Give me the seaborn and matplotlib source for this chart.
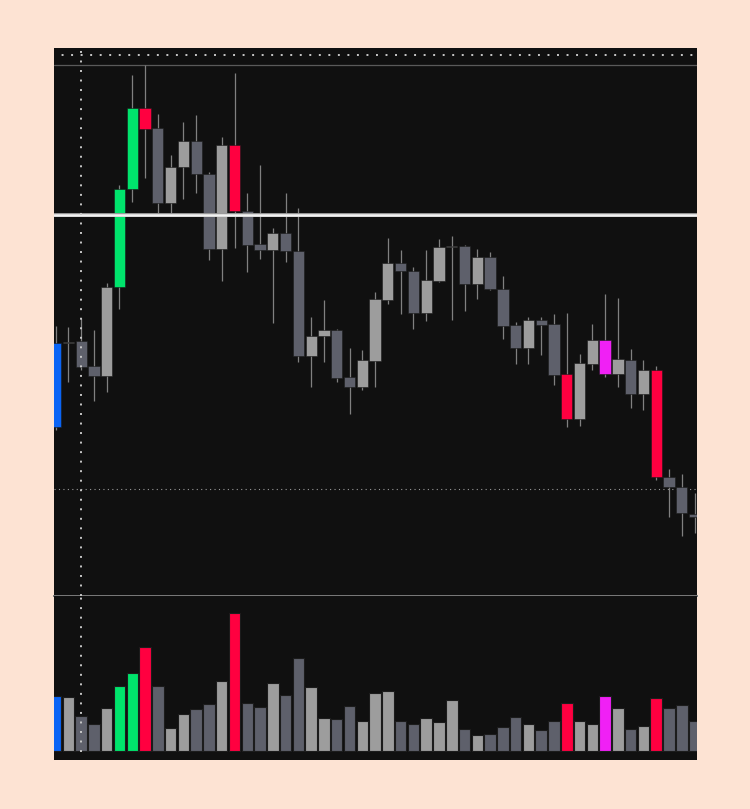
import numpy as np
import pandas as pd
import matplotlib
matplotlib.use("Agg")
import matplotlib.pyplot as plt
import seaborn as sns

# ---------------- data ----------------
opens  = [17.3, 25.7, 25.9, 23.4, 22.4, 31.3, 41.1, 49.2, 47.2, 39.7,
          43.3, 45.9, 42.6, 35.1, 45.5, 38.9, 35.6, 35.0, 36.7, 34.9,
          24.4, 26.4, 27.0, 22.3, 21.3, 23.9, 30.0, 33.7, 32.9, 28.7,
          31.9, 35.3, 35.4, 31.6, 34.3, 31.1, 27.5, 25.2, 28.0, 27.6,
          22.6, 18.1, 23.6, 26.0, 22.6, 24.0, 20.6, 23.0, 12.3, 11.3, 8.6]
highs  = [27.4, 27.3, 28.2, 27.0, 31.7, 41.5, 52.5, 53.5, 48.6, 44.5,
          47.8, 48.5, 42.8, 46.3, 52.7, 40.7, 43.5, 37.2, 40.7, 39.2,
          28.3, 30.0, 27.1, 25.2, 25.0, 30.8, 36.2, 35.0, 33.3, 35.0,
          36.1, 36.4, 35.5, 35.1, 34.8, 32.4, 27.8, 28.3, 28.3, 28.6,
          28.7, 24.6, 27.6, 30.6, 30.2, 25.1, 24.0, 23.4, 13.1, 12.6, 10.7]
lows   = [17.0, 21.8, 23.0, 19.9, 20.8, 29.1, 39.8, 42.2, 38.7, 38.7,
          40.1, 40.7, 34.0, 31.9, 35.2, 32.8, 34.1, 27.7, 33.8, 23.8,
          21.3, 23.8, 21.8, 18.6, 21.0, 21.3, 29.6, 28.6, 27.1, 27.9,
          31.8, 28.0, 28.9, 30.1, 31.0, 26.1, 23.6, 23.6, 24.5, 21.5,
          17.3, 17.4, 23.0, 22.3, 21.3, 19.2, 19.0, 12.0, 8.3, 6.4, 6.7]
closes = [25.7, 25.8, 23.3, 22.4, 31.3, 41.1, 49.2, 47.1, 39.7, 43.3,
          45.9, 42.6, 35.1, 45.5, 38.9, 35.5, 35.0, 36.7, 34.9, 24.4,
          26.4, 27.0, 22.2, 21.3, 24.0, 30.1, 33.7, 32.9, 28.7, 32.0,
          35.3, 35.4, 31.6, 34.3, 31.1, 27.4, 25.2, 28.0, 27.5, 22.5,
          18.1, 23.7, 26.0, 22.6, 24.1, 20.6, 23.0, 12.3, 11.3, 8.7, 8.3]
volumes = [5400, 5300, 3470, 2600, 4240, 6440, 7740, 10340, 6470, 2270,
           3640, 4100, 4640, 6970, 13640, 4700, 4370, 6740, 5540, 9170,
           6370, 3270, 3170, 4400, 2900, 5700, 5970, 2900, 2670, 3200,
           2840, 5000, 2170, 1600, 1700, 2370, 3340, 2600, 2070, 2900,
           4700, 2900, 2600, 5470, 4270, 2140, 2440, 5270, 4270, 4540, 2900]
# highlighted candles (signal categories)
signal = {0: "blue", 5: "green", 6: "green", 7: "red", 14: "red",
          40: "red", 43: "magenta", 47: "red"}
level_line = 38.5      # solid white level
dotted_level = 11.1    # dotted level
marker_bar = 2         # vertical dotted marker

# ---------------- styling ----------------
PEACH = "#fde3d3"
BG = "#101010"
COLORS = {"up": "#9d9d9d", "down": "#5e606b", "blue": "#0a64f5",
          "green": "#00e46c", "red": "#ff0040", "magenta": "#f020f5"}

n = len(opens)
idx = np.arange(n)
cat = []
for i in range(n):
    if i in signal:
        cat.append(signal[i])
    else:
        cat.append("up" if closes[i] >= opens[i] else "down")
df = pd.DataFrame({"bar": idx, "open": opens, "high": highs, "low": lows,
                   "close": closes, "volume": volumes, "cat": cat})

sns.set_theme(style="dark")
fig = plt.figure(figsize=(7.5, 8.09), dpi=100, facecolor=PEACH)
W, H = 750, 809
ax = fig.add_axes([54 / W, 1 - 596 / H, 643 / W, 548 / H])
axv = fig.add_axes([54 / W, 1 - 760 / H, 643 / W, 164 / H])
for a in (ax, axv):
    a.set_facecolor(BG)
    a.grid(False)
    for s in a.spines.values():
        s.set_visible(False)

XL = (-0.125, 50.19)

# wicks
ax.vlines(df["bar"], df["low"], df["high"], color="#808080", lw=0.9, zorder=2)
# bodies
bottoms = np.minimum(df["open"], df["close"])
heights = np.maximum(np.abs(df["close"] - df["open"]), 0.15)
ax.bar(df["bar"], heights, bottom=bottoms, width=0.88,
       color=[COLORS[c] for c in cat], edgecolor="#1a1a1a", linewidth=0.4, zorder=3)

ax.axhline(level_line, color="#9a9a9a", lw=2.8, zorder=4)
ax.axhline(level_line, color="#f2f2f2", lw=1.8, zorder=4)
ax.axhline(dotted_level, color="#9a9a9a", lw=0.8, ls=(0, (1, 3)), zorder=1)
ax.axhline(53.5, color="#5a5a5a", lw=0.9, zorder=1)
ax.axhline(54.5, color="#c8c8c8", lw=1.4, ls=(1, (1, 3.9)), dash_capstyle="butt", zorder=5)
ax.axvline(marker_bar, color="#c8c8c8", lw=1.4, ls=(0, (1, 3.9)), dash_capstyle="butt", zorder=6)
ax.set_xlim(*XL)
ax.set_ylim(0.4, 55.2)
ax.spines["bottom"].set_visible(True)
ax.spines["bottom"].set_color("#7a7a7a")
ax.spines["bottom"].set_linewidth(1.4)
ax.set_xticks([]); ax.set_yticks([])
ax.set_xlabel(""); ax.set_ylabel("")

# volume
sns.barplot(data=df, x="bar", y="volume", hue="cat", palette=COLORS, dodge=False,
            legend=False, ax=axv, width=0.9, saturation=1,
            edgecolor="#1c1c1c", linewidth=0.8, zorder=2)
axv.vlines(marker_bar, -100, 15370, color="#c8c8c8", lw=1.4, ls=(0, (1, 3.9)),
           capstyle="butt", zorder=6)
axv.set_xlim(*XL)
axv.set_ylim(-930, 15370)
axv.set_xticks([]); axv.set_yticks([])
axv.set_xlabel(""); axv.set_ylabel("")

fig.savefig("out.png", dpi=100, facecolor=PEACH)
